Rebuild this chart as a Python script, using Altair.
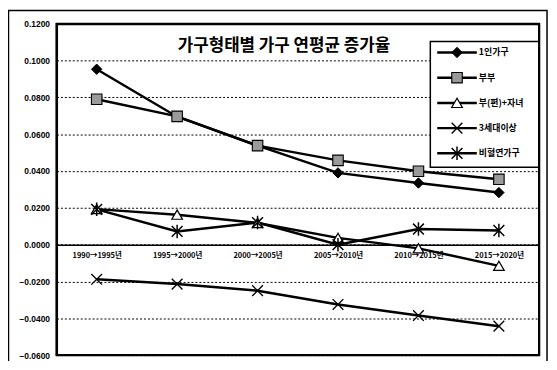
import altair as alt
import pandas as pd

categories = ["1990→1995년", "1995→2000년", "2000→2005년", "2005→2010년", "2010→2015년", "2015→2020년"]
series_names = ["1인가구", "부부", "부(편)+자녀", "3세대이상", "비혈연가구"]
one_person = [0.0953, 0.0695, 0.0538, 0.0390, 0.0335, 0.0283]
couple = [0.0790, 0.0697, 0.0538, 0.0458, 0.0399, 0.0355]
parent_child = [0.0193, 0.0163, 0.0118, 0.0037, -0.0020, -0.0115]
three_gen = [-0.0188, -0.0214, -0.0250, -0.0325, -0.0385, -0.0443]
non_kin = [0.0192, 0.0072, 0.0120, 0.0000, 0.0085, 0.0077]
y_ticks = [-0.06, -0.04, -0.02, 0.0, 0.02, 0.04, 0.06, 0.08, 0.10, 0.12]
title_text = "가구형태별 가구 연평균 증가율"

all_values = [one_person, couple, parent_child, three_gen, non_kin]
rows = []
for name, vals in zip(series_names, all_values):
    for c, v in zip(categories, vals):
        rows.append({"series": name, "period": c, "rate": v})
df = pd.DataFrame(rows)

W, H = 488, 335
KFONT = "Noto Sans CJK KR"

X_PATH = "M-1,-1L1,1M1,-1L-1,1"
AST_PATH = "M-1,-1L1,1M1,-1L-1,1M0,-1.25L0,1.25"
shape_scale = alt.Scale(domain=series_names,
                        range=["diamond", "square", "triangle-up", X_PATH, AST_PATH])
fill_scale = alt.Scale(domain=series_names,
                       range=["black", "#9a9a9a", "white", "black", "black"])
sw_scale = alt.Scale(domain=series_names, range=[1, 1.5, 1.8, 3.2, 3])
size_scale = alt.Scale(domain=series_names, range=[110, 120, 90, 120, 120])

x_enc = alt.X("period:N", sort=categories,
              scale=alt.Scale(type="point", padding=0.5),
              axis=alt.Axis(title=None, offset=-(H * 0.06 / 0.18), domainColor="black",
                            domainWidth=1.5, ticks=False, labelPadding=7,
                            labelFont=KFONT, labelFontSize=7.5, labelFontWeight="bold",
                            labelColor="black", labelAngle=0, labelOverlap=False, grid=False))
y_enc = alt.Y("rate:Q", scale=alt.Scale(domain=[-0.06, 0.12], nice=False, zero=False),
              axis=alt.Axis(values=y_ticks, format=".4f", title=None, grid=True,
                            gridDash=[2, 2], gridColor="black", gridWidth=1, gridOpacity=1,
                            domain=False, ticks=False, labelPadding=7,
                            labelFont="Liberation Sans", labelFontSize=8.5,
                            labelFontWeight="bold", labelColor="black"))

lines = alt.Chart(df).mark_line(color="black", strokeWidth=2.5).encode(
    x=x_enc, y=y_enc, detail="series:N")

points = alt.Chart(df).mark_point(filled=True, stroke="black", opacity=1).encode(
    x=x_enc, y=y_enc,
    shape=alt.Shape("series:N", scale=shape_scale, legend=None),
    fill=alt.Fill("series:N", scale=fill_scale, legend=None),
    strokeWidth=alt.StrokeWidth("series:N", scale=sw_scale, legend=None),
    size=alt.Size("series:N", scale=size_scale, legend=None),
)

one = pd.DataFrame({"t": [title_text]})

title = alt.Chart(one).mark_text(font=KFONT, fontSize=17, fontWeight="bold",
                                 color="black").encode(
    x=alt.value(230), y=alt.value(23), text="t:N")

frame = alt.Chart(one).mark_rect(fillOpacity=0, stroke="black", strokeWidth=1.5).encode(
    x=alt.value(-48.5), x2=alt.value(496), y=alt.value(-13.5), y2=alt.value(400))

plot_border = alt.Chart(one).mark_rect(fillOpacity=0, stroke="black", strokeWidth=2.2).encode(
    x=alt.value(0.5), x2=alt.value(W), y=alt.value(0.5), y2=alt.value(H))

legend_box = alt.Chart(one).mark_rect(fill="white", stroke="black", strokeWidth=1.5).encode(
    x=alt.value(378), x2=alt.value(488), y=alt.value(18), y2=alt.value(145))

leg_df = pd.DataFrame({"series": series_names, "i": list(range(len(series_names)))})
leg_base = alt.Chart(leg_df).transform_calculate(ly="29 + datum.i * 25.5")
ly = alt.Y("ly:Q", scale=None, axis=None)
leg_rule = leg_base.mark_rule(color="black", strokeWidth=2.5).encode(
    x=alt.value(385), x2=alt.value(425), y=ly)
leg_pts = leg_base.mark_point(filled=True, stroke="black", opacity=1).encode(
    x=alt.value(405), y=ly,
    shape=alt.Shape("series:N", scale=shape_scale, legend=None),
    fill=alt.Fill("series:N", scale=fill_scale, legend=None),
    strokeWidth=alt.StrokeWidth("series:N", scale=sw_scale, legend=None),
    size=alt.Size("series:N", scale=size_scale, legend=None),
)
leg_txt = leg_base.mark_text(align="left", baseline="middle", font=KFONT, fontSize=9,
                             fontWeight="bold", color="black").encode(
    x=alt.value(427), y=ly, text="series:N")

chart = alt.layer(frame, lines, points, title, legend_box, plot_border,
                  leg_rule, leg_pts, leg_txt).properties(
    width=W, height=H,
    background="white",
    autosize=alt.AutoSizeParams(type="none"),
    padding={"left": 49, "top": 14, "right": 10, "bottom": 4},
).configure_view(stroke="black", strokeWidth=2)

chart.save("out.html", embed_options={"renderer": "svg", "actions": False})
